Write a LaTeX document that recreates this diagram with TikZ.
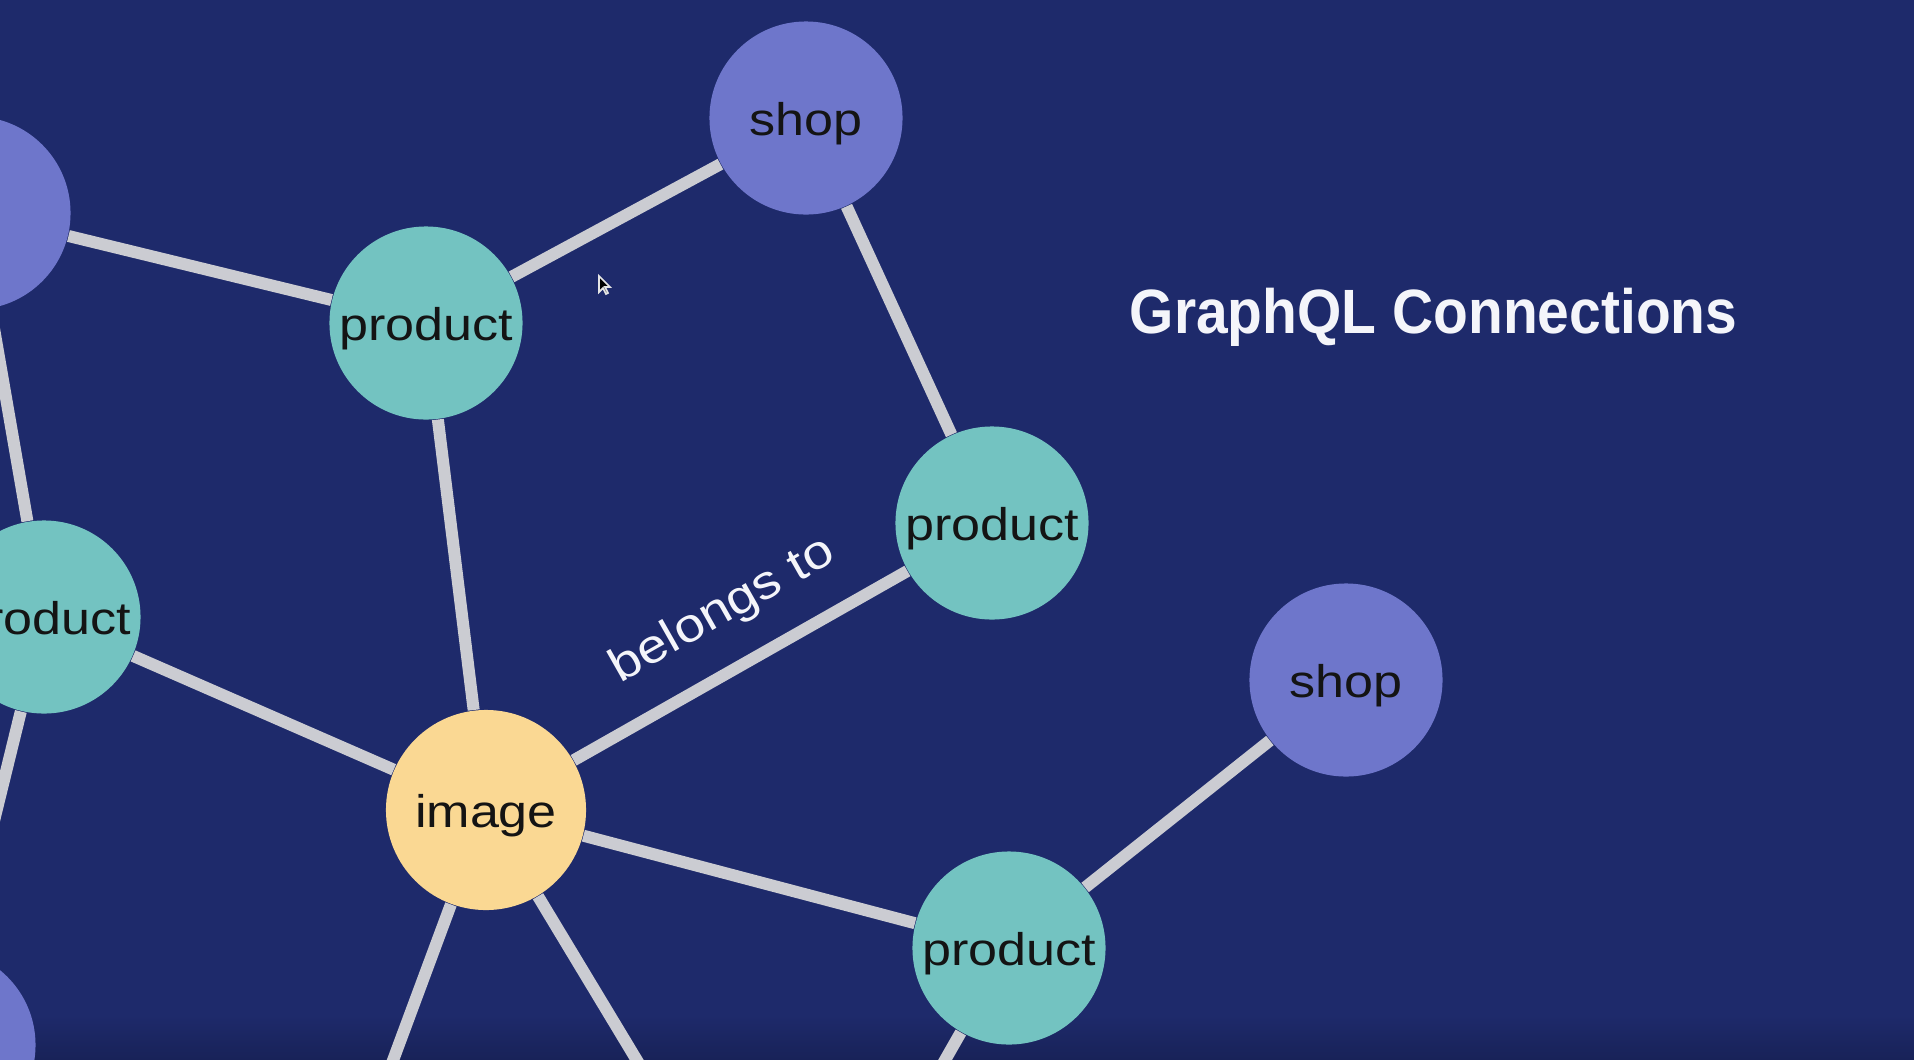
\documentclass[tikz,border=0pt]{standalone}
\usepackage{fontspec}
\setmainfont{Liberation Sans}
\newfontfamily\labelfont[FakeStretch=1.14]{Liberation Sans}
\newfontfamily\headfont[FakeStretch=0.91]{Liberation Sans}
\definecolor{bg}{RGB}{30,42,107}
\definecolor{bgdark}{RGB}{24,34,88}
\definecolor{edgegray}{RGB}{203,204,210}
\definecolor{shopcol}{RGB}{110,118,203}
\definecolor{productcol}{RGB}{115,195,193}
\definecolor{imagecol}{RGB}{250,216,147}
\definecolor{headcol}{RGB}{244,245,250}
\tikzset{
  entity/.style={circle, inner sep=0pt, minimum size=1.93cm,
    text height=10.2pt, text depth=0pt,
    font=\labelfont\fontsize{13}{16}\selectfont, text=black!92},
  shopnode/.style={entity, fill=shopcol},
  productnode/.style={entity, fill=productcol},
  imagenode/.style={entity, fill=imagecol, minimum size=2.0cm},
  link/.style={draw=edgegray, line width=0.12cm},
  edgelabel/.style={sloped, inner sep=0pt, text=headcol,
    font=\labelfont\fontsize{13.5}{16}\selectfont},
}
\begin{document}
\begin{tikzpicture}[x=0.01cm, y=-0.01cm]
  \useasboundingbox (0,0) rectangle (1914,1060);
  \clip (0,0) rectangle (1914,1060);
  % backdrop
  \fill[bg] (0,0) rectangle (1914,1060);
  \shade[top color=bg, bottom color=bgdark] (0,1015) rectangle (1914,1060);

  % entities
  \node[shopnode]    (leftshop)      at (-26,213)  {};
  \node[productnode] (topproduct)    at (426,323)  {product};
  \node[shopnode]    (topshop)       at (806,118)  {shop};
  \node[productnode] (rightproduct)  at (992,523)  {product};
  \node[productnode] (leftproduct)   at (44,617)   {product};
  \node[imagenode]   (image)         at (486,810)  {image};
  \node[shopnode]    (rightshop)     at (1346,680) {shop};
  \node[productnode] (bottomproduct) at (1009,948) {product};
  \node[shopnode]    (cornershop)    at (-61,1045) {};

  % loose ends running off the lower edge
  \coordinate (offA) at (356,1160);
  \coordinate (offB) at (697,1160);
  \coordinate (offC) at (888,1160);

  % relations
  \path[link] (leftshop) -- (topproduct);
  \path[link] (leftshop) -- (leftproduct);
  \path[link] (topproduct) -- (topshop);
  \path[link] (topshop) -- (rightproduct);
  \path[link] (topproduct) -- (image);
  \path[link] (leftproduct) -- (image);
  \path[link] (leftproduct) -- (cornershop);
  \path[link] (image) -- node[edgelabel, pos=0.53, above=8pt] {belongs to} (rightproduct);
  \path[link] (image) -- (bottomproduct);
  \path[link] (bottomproduct) -- (rightshop);
  \path[link] (image) -- (offA);
  \path[link] (image) -- (offB);
  \path[link] (bottomproduct) -- (offC);

  % heading
  \node[anchor=base west, inner sep=0pt, text=headcol,
        font=\headfont\bfseries\fontsize{17.8}{20}\selectfont]
        (heading) at (1129,333) {GraphQL Connections};

  % pointer
  \filldraw[fill=black, draw=white!80!gray, line width=0.5pt, shift={(599,276)}]
    (0,0) -- (0,16) -- (4,12) -- (7,18) -- (9,17) -- (6,11) -- (11,11) -- cycle;
\end{tikzpicture}
\end{document}
